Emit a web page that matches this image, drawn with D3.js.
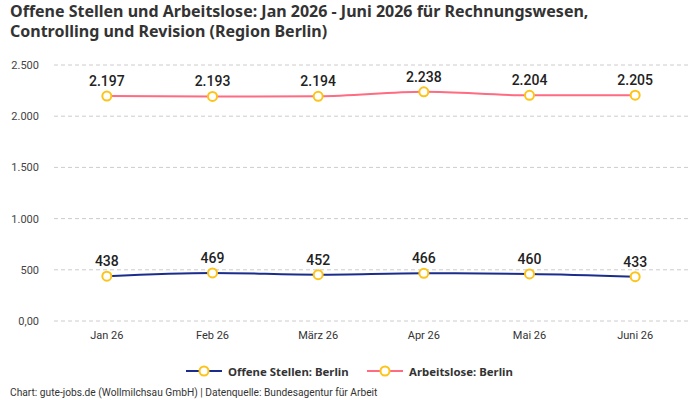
<!DOCTYPE html>
<html>
<head>
<meta charset="utf-8">
<script src="https://cdn.jsdelivr.net/npm/d3@7"></script>
<style>
  body { margin: 0; background: #fff; }
  text { font-family: Roboto, "Noto Sans", sans-serif; }
  .wide { font-family: "Noto Sans", Roboto, sans-serif; }
</style>
</head>
<body>
<svg id="chart" width="700" height="400"></svg>
<script>
// Chart data
const months = ["Jan 26", "Feb 26", "März 26", "Apr 26", "Mai 26", "Juni 26"];
const offeneStellen = [438, 469, 452, 466, 460, 433];
const arbeitslose = [2197, 2193, 2194, 2238, 2204, 2205];
const yTicks = [0, 500, 1000, 1500, 2000, 2500];
const yTickLabels = ["0,00", "500", "1.000", "1.500", "2.000", "2.500"];
const seriesNames = ["Offene Stellen: Berlin", "Arbeitslose: Berlin"];
const seriesColors = ["#1b2d8c", "#ff6b81"];

const svg = d3.select("#chart");
const margin = { left: 54, right: 12, top: 65, bottom: 79 };
const width = 700, height = 400;

const x = d3.scaleBand().domain(months).range([margin.left, width - margin.right]);
const y = d3.scaleLinear().domain([0, 2500]).range([height - margin.bottom, margin.top]);
const fmt = d3.formatLocale({ decimal: ",", thousands: ".", grouping: [3], currency: ["", "€"] }).format(",d");

// Title
svg.append("text")
    .attr("class", "wide")
    .attr("x", 10).attr("y", 17)
    .style("font-size", "16px").style("font-weight", "bold").style("fill", "#333")
    .text("Offene Stellen und Arbeitslose: Jan 2026 - Juni 2026 für Rechnungswesen,");
svg.append("text")
    .attr("class", "wide")
    .attr("x", 10).attr("y", 37)
    .style("font-size", "16px").style("font-weight", "bold").style("fill", "#333")
    .text("Controlling und Revision (Region Berlin)");

// Grid + y axis
const yAxis = d3.axisLeft(y).tickValues(yTicks).tickFormat((d, i) => yTickLabels[i]).tickSize(0).tickPadding(15);
svg.append("g")
    .attr("transform", `translate(${margin.left},0)`)
    .call(yAxis)
    .call(g => g.select(".domain").remove())
    .call(g => g.selectAll("text").style("font-size", "11px").style("fill", "#444"));

svg.append("g").selectAll("line")
    .data(yTicks)
    .enter().append("line")
    .attr("x1", margin.left).attr("x2", width - margin.right)
    .attr("y1", d => y(d)).attr("y2", d => y(d))
    .attr("stroke", "#ccc").attr("stroke-dasharray", "4,3");

// x axis
const xAxis = d3.axisBottom(x).tickSize(0).tickPadding(10);
svg.append("g")
    .attr("transform", `translate(0,${y(0)})`)
    .call(xAxis)
    .call(g => g.select(".domain").remove())
    .call(g => g.selectAll("text").style("font-size", "11px").style("fill", "#333"));

const cx = m => x(m) + x.bandwidth() / 2;
const line = d3.line().x((d, i) => cx(months[i])).y(d => y(d)).curve(d3.curveMonotoneX);

[offeneStellen, arbeitslose].forEach((series, s) => {
    svg.append("path")
        .datum(series)
        .attr("d", line)
        .attr("fill", "none")
        .attr("stroke", seriesColors[s])
        .attr("stroke-width", 2);

    svg.append("g").selectAll("circle")
        .data(series)
        .enter().append("circle")
        .attr("cx", (d, i) => cx(months[i]))
        .attr("cy", d => y(d))
        .attr("r", 4.5)
        .attr("fill", "#fff")
        .attr("stroke", "#fcc419")
        .attr("stroke-width", 2);

    svg.append("g").selectAll("text")
        .data(series)
        .enter().append("text")
        .attr("x", (d, i) => cx(months[i]))
        .attr("y", d => y(d) - 10)
        .attr("text-anchor", "middle")
        .style("font-size", "14px")
        .style("font-weight", "500")
        .style("fill", "#222")
        .text(d => fmt(d));
});

// Legend
const legend = svg.append("g").attr("transform", "translate(0,371)");
const legendX = [186, 367];
seriesNames.forEach((name, s) => {
    const lg = legend.append("g").attr("transform", `translate(${legendX[s]},0)`);
    lg.append("line").attr("x1", 0).attr("x2", 36).attr("y1", 0).attr("y2", 0)
        .attr("stroke", seriesColors[s]).attr("stroke-width", 2);
    lg.append("circle").attr("cx", 18).attr("cy", 0).attr("r", 4.5)
        .attr("fill", "#fff").attr("stroke", "#fcc419").attr("stroke-width", 2);
    lg.append("text").attr("class", "wide").attr("x", 42).attr("y", 4.5)
        .style("font-size", "11.4px").style("font-weight", "bold").style("fill", "#333")
        .text(name);
});

// Footer
svg.append("text")
    .attr("x", 10).attr("y", 396)
    .style("font-size", "10.2px").style("fill", "#333")
    .text("Chart: gute-jobs.de (Wollmilchsau GmbH) | Datenquelle: Bundesagentur für Arbeit");
</script>
</body>
</html>
